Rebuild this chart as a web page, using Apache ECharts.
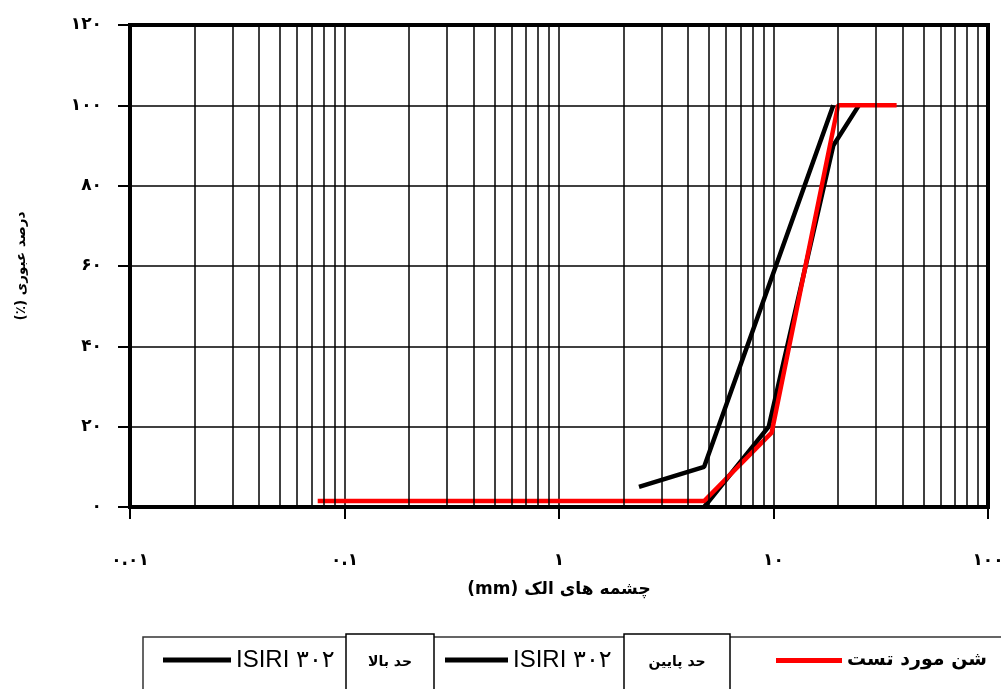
<!DOCTYPE html>
<html><head><meta charset="utf-8">
<script src="https://cdn.jsdelivr.net/npm/echarts@6/dist/echarts.min.js"></script>
<style>html,body{margin:0;padding:0;background:#fff}#c{width:1001px;height:689px}</style>
</head><body><div id="c"></div>
<script>
const xTickLabels = ['۰.۰۱','۰.۱','۱','۱۰','۱۰۰'];
const yTickLabels = ['۰','۲۰','۴۰','۶۰','۸۰','۱۰۰','۱۲۰'];
const minorGridX = [0.02,0.03,0.04,0.05,0.06,0.07,0.08,0.09,
                    0.2,0.3,0.4,0.5,0.6,0.7,0.8,0.9,
                    2,3,4,5,6,7,8,9,
                    20,30,40,50,60,70,80,90];
const testSize = [0.075, 0.15, 0.3, 0.6, 1.18, 2.36, 4.75, 9.8, 20, 25, 37.5];
const testPass = [1.5, 1.5, 1.5, 1.5, 1.5, 1.5, 1.5, 18.5, 100, 100, 100];
const upperSize = [2.36, 4.75, 9.5, 19];
const upperPass = [5, 10, 55, 100];
const lowerSize = [4.75, 9.5, 19, 25];
const lowerPass = [0, 20, 90, 100];
const seriesNames = ['ISIRI ۳۰۲ حد بالا', 'ISIRI ۳۰۲ حد پایین', 'شن مورد تست'];
const legendShort = 'ISIRI ۳۰۲';
const boxLabels = ['حد بالا', 'حد پایین'];
const xAxisTitle = 'چشمه های الک (mm)';
const yAxisTitle = 'درصد عبوری (٪)';

const rtl = s => '\u202B' + s + '\u202C';
const zip = (a, b) => a.map((v, i) => [v, b[i]]);
const chart = echarts.init(document.getElementById('c'), null, {renderer: 'canvas'});
const persian = "'DejaVu Sans', sans-serif";
chart.setOption({
  animation: false,
  backgroundColor: '#fff',
  grid: {left: 130, top: 25, right: 13, bottom: 182, outerBoundsMode: 'none', containLabel: false,
    show: true, borderColor: '#000', borderWidth: 4, backgroundColor: 'transparent'},
  xAxis: {
    type: 'log', logBase: 10, min: 0.01, max: 100, splitNumber: 4,
    name: rtl(xAxisTitle), nameLocation: 'middle', nameGap: 74,
    nameTextStyle: {fontFamily: "'DejaVu Sans', serif", fontSize: 17, color: '#000', fontWeight: 'bold'},
    axisLine: {show: true, lineStyle: {color: '#000', width: 4}},
    axisTick: {show: true, length: 12, lineStyle: {color: '#000', width: 2}},
    axisLabel: {margin: 45, fontFamily: persian, fontSize: 17, fontWeight: 'bold', color: '#000',
      formatter: v => xTickLabels[Math.round(Math.log10(v)) + 2]},
    splitLine: {show: true, lineStyle: {color: '#000', width: 1.5}},
    minorTick: {show: false}, minorSplitLine: {show: false}
  },
  yAxis: {
    type: 'value', min: 0, max: 120, interval: 20,
    name: rtl(yAxisTitle), nameLocation: 'middle', nameGap: 102, nameRotate: 90,
    nameTextStyle: {fontFamily: persian, fontSize: 13.5, fontWeight: 'bold', color: '#000'},
    axisLine: {show: true, lineStyle: {color: '#000', width: 4}},
    axisTick: {show: true, length: 12, lineStyle: {color: '#000', width: 2}},
    axisLabel: {margin: 28, fontFamily: persian, fontSize: 17, fontWeight: 'bold', color: '#000',
      formatter: v => yTickLabels[Math.round(v / 20)]},
    splitLine: {show: true, lineStyle: {color: '#000', width: 1.5}}
  },
  legend: [
    {data: [seriesNames[0]], left: 163, top: 648, padding: 0, itemWidth: 68, itemHeight: 5, itemGap: 0, icon: 'rect',
      formatter: () => legendShort, textStyle: {fontFamily: "'Liberation Sans', 'DejaVu Sans', sans-serif", fontSize: 24, color: '#000'}},
    {data: [seriesNames[1]], left: 445, top: 648, padding: 0, itemWidth: 63, itemHeight: 5, itemGap: 0, icon: 'rect',
      formatter: () => legendShort, textStyle: {fontFamily: "'Liberation Sans', 'DejaVu Sans', sans-serif", fontSize: 24, color: '#000'}},
    {data: [seriesNames[2]], left: 776, top: 651, padding: 0, itemWidth: 66, itemHeight: 5, itemGap: 0, icon: 'rect',
      textStyle: {fontFamily: persian, fontSize: 19, fontWeight: 'bold', color: '#000'}}
  ],
  graphic: [
    {type: 'rect', z: 1, silent: true, shape: {x: 143, y: 637, width: 880, height: 80},
      style: {fill: 'none', stroke: '#333', lineWidth: 1.5}},
    {type: 'rect', z: 100, silent: true, shape: {x: 346, y: 634, width: 88, height: 80},
      style: {fill: '#fff', stroke: '#000', lineWidth: 1.5}},
    {type: 'text', z: 101, silent: true, x: 390, y: 662,
      style: {text: boxLabels[0], fontFamily: persian, fontSize: 14, fontWeight: 'bold', fill: '#000', align: 'center', verticalAlign: 'middle'}},
    {type: 'rect', z: 100, silent: true, shape: {x: 624, y: 634, width: 106, height: 80},
      style: {fill: '#fff', stroke: '#000', lineWidth: 1.5}},
    {type: 'text', z: 101, silent: true, x: 677, y: 662,
      style: {text: boxLabels[1], fontFamily: persian, fontSize: 14, fontWeight: 'bold', fill: '#000', align: 'center', verticalAlign: 'middle'}}
  ],
  series: [
    {type: 'line', name: 'minor', data: [], z: 1, silent: true,
      markLine: {silent: true, symbol: ['none', 'none'], label: {show: false}, animation: false,
        lineStyle: {color: '#000', width: 1.5, type: 'solid'},
        data: minorGridX.map(v => ({xAxis: v}))}},
    {type: 'line', name: seriesNames[0], data: zip(upperSize, upperPass), z: 3, symbol: 'none',
      color: '#000', lineStyle: {color: '#000', width: 4.5}},
    {type: 'line', name: seriesNames[1], data: zip(lowerSize, lowerPass), z: 3, symbol: 'none',
      color: '#000', lineStyle: {color: '#000', width: 4.5}},
    {type: 'line', name: seriesNames[2], data: zip(testSize, testPass), z: 4, symbol: 'none',
      color: '#ff0000', lineStyle: {color: '#ff0000', width: 4.5}}
  ]
});
</script></body></html>
